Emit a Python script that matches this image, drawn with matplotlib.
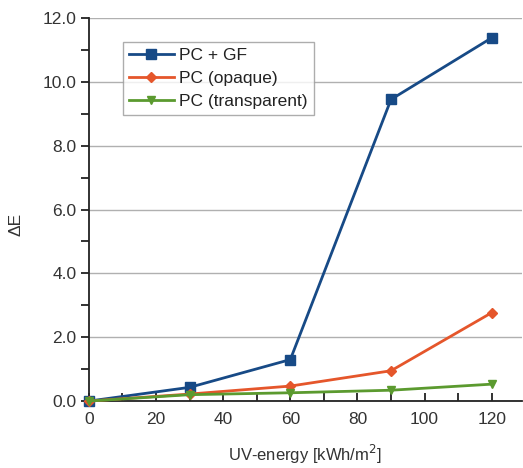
import matplotlib
matplotlib.use("Agg")
import matplotlib.pyplot as plt
from matplotlib.ticker import MultipleLocator, FormatStrFormatter

uv_energy = [0, 30, 60, 90, 120]
pc_gf = [0.0, 0.43, 1.30, 9.45, 11.38]
pc_opaque = [0.0, 0.22, 0.47, 0.95, 2.77]
pc_transparent = [0.0, 0.20, 0.26, 0.34, 0.53]

labels = ["PC + GF", "PC (opaque)", "PC (transparent)"]
colors = ["#174a86", "#e5562b", "#5b9a2f"]
markers = ["s", "D", "v"]
sizes = [6.5, 5, 6]

plt.rcParams['font.family'] = ['Liberation Sans', 'DejaVu Sans']
text_color = "#333333"

fig = plt.figure(figsize=(5.23, 4.68), dpi=100)
ax = fig.add_axes([0.170, 0.143, 0.828, 0.8185])

for ys, lab, c, m, s in zip([pc_gf, pc_opaque, pc_transparent], labels, colors, markers, sizes):
    ax.plot(uv_energy, ys, color=c, marker=m, markersize=s, linewidth=2.0, label=lab,
            clip_on=False, zorder=3)

ax.set_xlim(0, 129)
ax.set_ylim(0, 12)
ax.xaxis.set_major_locator(MultipleLocator(20))
ax.xaxis.set_minor_locator(MultipleLocator(10))
ax.yaxis.set_major_locator(MultipleLocator(2))
ax.yaxis.set_minor_locator(MultipleLocator(1))
ax.yaxis.set_major_formatter(FormatStrFormatter('%.1f'))

ax.grid(axis='y', which='major', color='#b0b0b0', linewidth=1.0)
ax.set_axisbelow(True)

for side in ['top', 'right']:
    ax.spines[side].set_visible(False)
for side in ['left', 'bottom']:
    ax.spines[side].set_color('#222222')
    ax.spines[side].set_linewidth(1.3)

ax.tick_params(axis='x', which='both', direction='in', length=6, width=1.3, color='#222222',
               labelsize=12.5, labelcolor=text_color, pad=8)
ax.tick_params(axis='y', which='both', direction='out', length=6, width=1.3, color='#222222',
               labelsize=12.5, labelcolor=text_color, pad=3)

ax.set_xlabel("UV-energy [kWh/m$^2$]", fontsize=12, color=text_color, labelpad=11)
ax.set_ylabel("ΔE", fontsize=12.5, color=text_color, labelpad=12)
ax.yaxis.set_label_coords(-0.15, 0.46)

leg = ax.legend(loc='upper left', bbox_to_anchor=(0.078, 0.937), fontsize=12.5,
                handlelength=2.6, frameon=True, fancybox=False, borderpad=0.35,
                labelspacing=0.45, handletextpad=0.3, borderaxespad=0)
leg.get_frame().set_edgecolor('#999999')
leg.get_frame().set_linewidth(1.0)
for t in leg.get_texts():
    t.set_color('#222222')

fig.savefig("out.png", dpi=100)
